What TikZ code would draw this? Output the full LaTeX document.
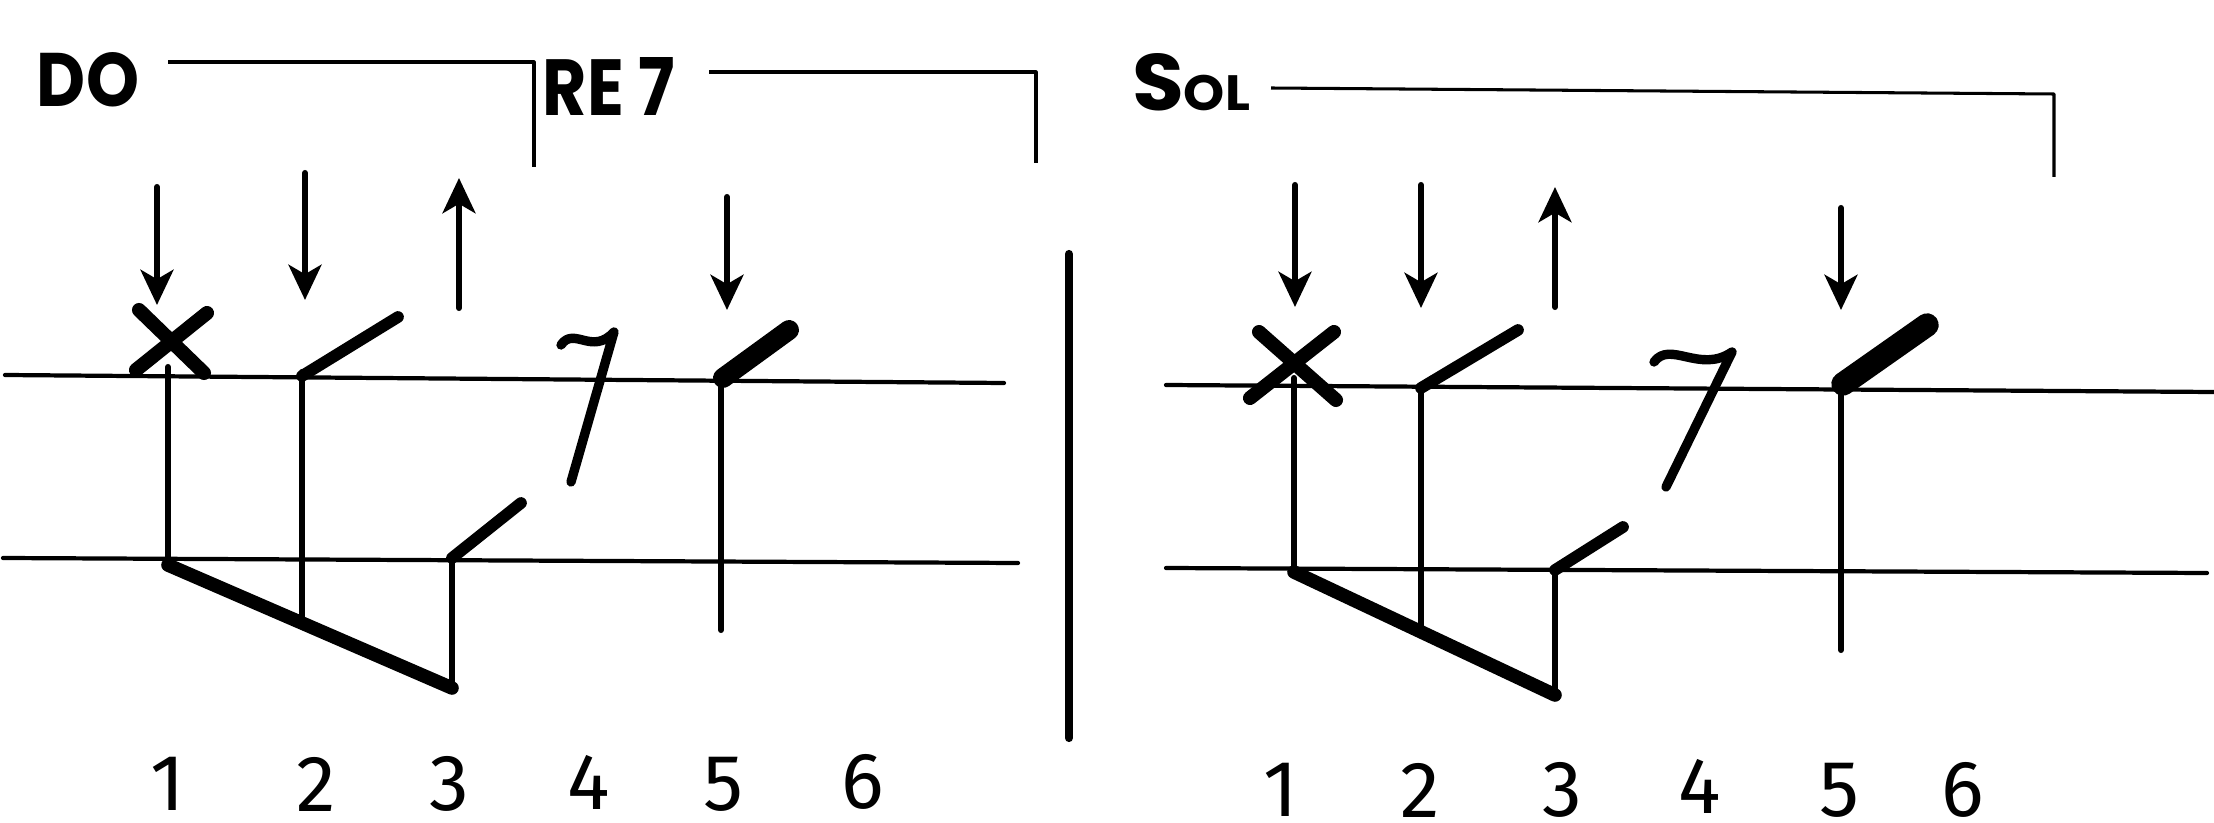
\documentclass[tikz,border=0pt]{standalone}
\usepackage{graphicx}
\usepackage{fontspec}
\setmainfont{Fira Sans}
\newfontfamily\lab{Poppins}
\usetikzlibrary{arrows.meta}
\begin{document}
\begin{tikzpicture}[x=0.015cm,y=-0.015cm, line cap=round, line join=round,
 staffline/.style={line width=1.8pt},
 brk/.style={line width=1.3pt, line cap=butt},
 stem/.style={line width=2.6pt},
 beam/.style={line width=5.8pt},
 flag/.style={line width=5pt},
 thickflag/.style={line width=8.5pt},
 xmark/.style={line width=6pt},
 rest/.style={line width=4pt},
 barl/.style={line width=3.5pt},
 strum/.style={line width=2.6pt,-{Stealth[length=15pt,width=14pt,inset=4pt]}},
 chord/.style={inner sep=0pt, font=\lab\bfseries},
 num/.style={inner sep=0pt, font=\fontsize{34}{38}\selectfont}]
\useasboundingbox (0,0) rectangle (2214,823);

% ---------- left panel ----------
\node[chord] (do) at (88,80) {\resizebox{15.3mm}{8.1mm}{DO}};
\node[chord] (re) at (609,86) {\resizebox{19.8mm}{8.7mm}{RE 7}};
\coordinate (b1a) at (168,62); \coordinate (b1b) at (534,62); \coordinate (b1c) at (534,167);
\draw[brk] (b1a) -- (b1b) -- (b1c);
\coordinate (b2a) at (709,72); \coordinate (b2b) at (1036,72); \coordinate (b2c) at (1036,163);
\draw[brk] (b2a) -- (b2b) -- (b2c);

\coordinate (a1s) at (157,187); \coordinate (a1e) at (157,305);
\coordinate (a2s) at (305,173); \coordinate (a2e) at (305,300);
\coordinate (a3s) at (459,308); \coordinate (a3e) at (459,178);
\coordinate (a5s) at (727,197); \coordinate (a5e) at (727,310);
\draw[strum] (a1s) -- (a1e);
\draw[strum] (a2s) -- (a2e);
\draw[strum] (a3s) -- (a3e);
\draw[strum] (a5s) -- (a5e);

\draw[staffline] (5,375) -- (1004,383);
\draw[staffline] (3,558) -- (1018,563);

\draw[xmark] (139,310) -- (204,373);
\draw[xmark] (207,313) -- (136,370);

\coordinate (s1t) at (168,367); \coordinate (s1b) at (168,565);
\coordinate (bmL) at (452,688);
\draw[stem] (s1t) -- (s1b);
\draw[beam] (s1b) -- (bmL);
\draw[stem] (302,372) -- (302,624);
\draw[flag] (302,376) -- (398,317);
\draw[stem] (452,558) -- (bmL);
\draw[flag] (452,558) -- (521,503);

\draw[rest] (561,345) .. controls (574,326) and (592,356) .. (614,332) -- (571,482);

\draw[stem] (721,383) -- (721,630);
\draw[thickflag] (723,378) -- (789,330);

\draw[barl] (1069,254) -- (1069,738);

\node[num] (l1) at (168,784) {1};
\node[num] (l2) at (316,784) {2};
\node[num] (l3) at (449,784) {3};
\node[num] (l4) at (589,782) {4};
\node[num] (l5) at (723,784) {5};
\node[num] (l6) at (863,782) {6};

% ---------- right panel ----------
\node[chord] (sol) at (1191,82) {\resizebox{17.7mm}{8.55mm}{S\scalebox{0.62}{OL}}};
\coordinate (b3a) at (1271,88); \coordinate (b3b) at (2054,94); \coordinate (b3c) at (2054,177);
\draw[brk] (b3a) -- (b3b) -- (b3c);

\coordinate (r1s) at (1295,185); \coordinate (r1e) at (1295,307);
\coordinate (r2s) at (1421,185); \coordinate (r2e) at (1421,308);
\coordinate (r3s) at (1555,307); \coordinate (r3e) at (1555,187);
\coordinate (r5s) at (1841,208); \coordinate (r5e) at (1841,310);
\draw[strum] (r1s) -- (r1e);
\draw[strum] (r2s) -- (r2e);
\draw[strum] (r3s) -- (r3e);
\draw[strum] (r5s) -- (r5e);

\draw[staffline] (1166,385) -- (2214,392);
\draw[staffline] (1166,568) -- (2207,573);

\draw[xmark] (1259,332) -- (1336,400);
\draw[xmark] (1334,332) -- (1250,398);

\coordinate (t1t) at (1294,378); \coordinate (t1b) at (1294,572);
\coordinate (bmR) at (1555,695);
\draw[stem] (t1t) -- (t1b);
\draw[beam] (t1b) -- (bmR);
\draw[stem] (1421,388) -- (1421,632);
\draw[flag] (1421,388) -- (1518,330);
\draw[stem] (1555,570) -- (bmR);
\draw[flag] (1555,570) -- (1623,527);

\draw[rest] (1654,362) .. controls (1670,340) and (1700,374) .. (1732,352) -- (1666,487);

\draw[stem] (1841,388) -- (1841,650);
\draw[thickflag, line width=10pt] (1843,384) -- (1927,325);

\node[num] (r1) at (1281,790) {1};
\node[num] (r2) at (1420,790) {2};
\node[num] (r3) at (1562,790) {3};
\node[num] (r4) at (1700,786) {4};
\node[num] (r5) at (1839,790) {5};
\node[num] (r6) at (1963,790) {6};
\end{tikzpicture}
\end{document}
